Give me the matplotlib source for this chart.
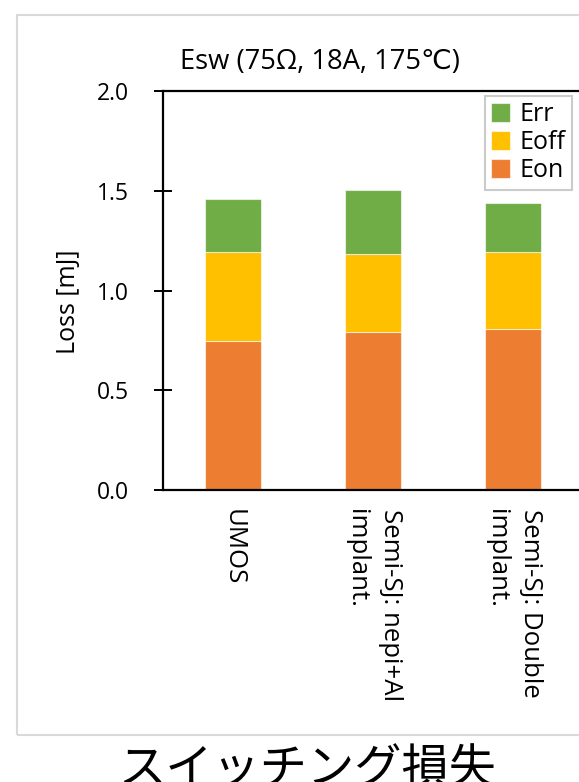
import matplotlib
matplotlib.use("Agg")
import matplotlib.pyplot as plt
from matplotlib.patches import Rectangle
import numpy as np

# データ
categories = ["UMOS", "Semi-SJ: nepi+Al\nimplant.", "Semi-SJ: Double\nimplant."]
eon = [0.745, 0.790, 0.807]
eoff = [0.450, 0.395, 0.388]
err = [0.262, 0.317, 0.245]
yticks = [0.0, 0.5, 1.0, 1.5, 2.0]

plt.rcParams['font.family'] = ['Open Sans', 'DejaVu Sans']

W, H = 579, 782
fig = plt.figure(figsize=(W/100, H/100), dpi=100)

# 外枠
fig.patches.append(Rectangle((17/W, 1-735/H), (620-17)/W, (735-15)/H,
                             transform=fig.transFigure, fill=False,
                             edgecolor='#d9d9d9', linewidth=1.5))

ax = fig.add_axes([163.3/W, 1-490/H, 420/W, 399/H])
x = np.arange(len(categories))
w = 0.4
edge = (1, 1, 1, 0.6)
b1 = ax.bar(x, eon, w, color='#ED7D31', edgecolor=edge, linewidth=0.8, label='Eon')
b2 = ax.bar(x, eoff, w, bottom=eon, color='#FFC000', edgecolor=edge, linewidth=0.8, label='Eoff')
bottom2 = np.array(eon) + np.array(eoff)
b3 = ax.bar(x, err, w, bottom=bottom2, color='#70AD47', edgecolor=edge, linewidth=0.8, label='Err')

ax.set_xlim(-0.5, 2.5)
ax.set_ylim(0, 2.0)
ax.set_yticks(yticks)
ax.set_yticklabels(['%.1f' % v for v in yticks], fontsize=16.5)
ax.tick_params(axis='y', direction='inout', length=13, width=1.4, pad=18)
ax.set_xticks(x)
ax.set_xticklabels(categories, rotation=-90, fontsize=18.5, va='top', ha='center',
                   linespacing=1.45)
for t in ax.get_xticklabels():
    t.set_multialignment('left')
ax.tick_params(axis='x', length=0, pad=14)
for s in ['left', 'bottom', 'top', 'right']:
    ax.spines[s].set_linewidth(1.6)
    ax.spines[s].set_color('black')

leg = ax.legend(handles=[b3, b2, b1], loc='upper left',
                bbox_to_anchor=((485-163.3)/420, (490-96)/399),
                fontsize=18, frameon=True, fancybox=False, edgecolor='#bfbfbf',
                handlelength=0.75, handleheight=0.75, handletextpad=0.4,
                borderpad=0.25, labelspacing=0.12, borderaxespad=0)
leg.get_frame().set_linewidth(1.5)

fig.text(320/W, 1-62/H, 'Esw (75Ω, 18A, 175℃)', fontsize=19.7, ha='center', va='center')
fig.text(68/W, 1-302/H, 'Loss [mJ]', fontsize=18, rotation=90, ha='center', va='center')
fig.text(307/W, 1-770/H, 'スイッチング損失', fontsize=34, ha='center', va='center',
         family=['Noto Sans CJK JP', 'DejaVu Sans'])

fig.savefig('out.png', dpi=100)
